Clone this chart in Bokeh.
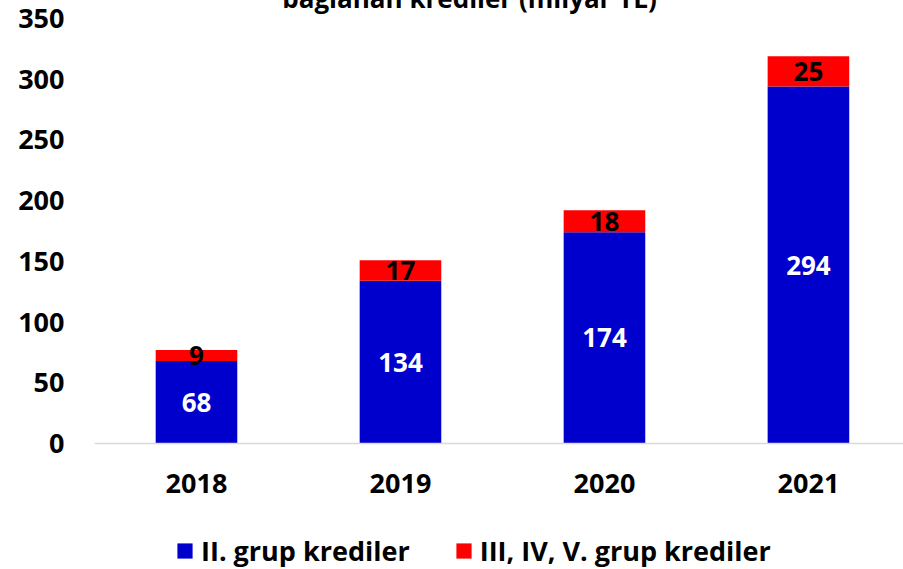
from bokeh.plotting import figure
from bokeh.models import ColumnDataSource, LabelSet, Label, Range1d, FixedTicker, Legend, LegendItem, Span
from bokeh.core.properties import value
from bokeh.embed import file_html
from bokeh.resources import INLINE

years = ["2018", "2019", "2020", "2021"]
grup2 = [68, 134, 174, 294]
grup345 = [9, 17, 18, 25]
series_names = ["II. grup krediler", "III, IV, V. grup krediler"]
colors = ["#0000CC", "#FF0000"]
title_text = "bağlanan krediler (milyar TL)"
y_ticks = [0, 50, 100, 150, 200, 250, 300, 350]

FONT = "Open Sans"
PX_PER_UNIT = 425 / 350.0          # vertical scale of the value axis
YEAR_LABEL_Y = -40 / PX_PER_UNIT   # year labels sit ~40px under the baseline

x = list(range(len(years)))
mid2 = [v / 2 for v in grup2]
mid3 = [a + b / 2 for a, b in zip(grup2, grup345)]
src = ColumnDataSource(dict(x=x, g2=grup2, g3=grup345, mid2=mid2, mid3=mid3,
                            t2=[str(v) for v in grup2], t3=[str(v) for v in grup345]))
ysrc = ColumnDataSource(dict(x=x, y=[YEAR_LABEL_Y] * len(x), t=years))

p = figure(width=911, height=577, output_backend="svg", toolbar_location=None,
           x_range=Range1d(-0.5, 3.466), y_range=Range1d(-126 / PX_PER_UNIT, 451 / PX_PER_UNIT),
           x_axis_location=None,
           min_border_left=102, min_border_right=0, min_border_top=0, min_border_bottom=0,
           margin=(-8, -8, -8, -8))
p.outline_line_color = None
p.xgrid.grid_line_color = None
p.ygrid.grid_line_color = None

r = p.vbar_stack(["g2", "g3"], x="x", width=0.4, source=src, color=colors, line_color=None)

p.yaxis.ticker = FixedTicker(ticks=y_ticks)
p.yaxis.axis_line_color = None
p.yaxis.major_tick_line_color = None
p.yaxis.minor_tick_line_color = None
p.yaxis.major_label_text_font = FONT
p.yaxis.major_label_text_font_style = "bold"
p.yaxis.major_label_text_font_size = "27px"
p.yaxis.major_label_text_color = "black"
p.yaxis.major_label_standoff = 24

baseline = Span(location=0, dimension="width", line_color="#d9d9d9", line_width=1.5)
p.add_layout(baseline)

year_labels = LabelSet(x="x", y="y", text="t", source=ysrc, text_align="center", text_baseline="middle",
                       text_color="black", text_font=value(FONT), text_font_style="bold",
                       text_font_size="27px")
p.add_layout(year_labels)

lab2 = LabelSet(x="x", y="mid2", text="t2", source=src, text_align="center", text_baseline="middle",
                text_color="white", text_font=value(FONT), text_font_style="bold", text_font_size="26px")
lab3 = LabelSet(x="x", y="mid3", text="t3", source=src, text_align="center", text_baseline="middle",
                text_color="black", text_font=value(FONT), text_font_style="bold", text_font_size="26px")
p.add_layout(lab2)
p.add_layout(lab3)

title = Label(x=375, y=572, x_units="screen", y_units="screen", text=title_text,
              text_align="center", text_baseline="alphabetic", text_font=FONT,
              text_font_style="bold", text_font_size="26px", text_color="black")
p.add_layout(title)

legend = Legend(items=[LegendItem(label=series_names[0], renderers=[r[0]]),
                       LegendItem(label=series_names[1], renderers=[r[1]])],
                orientation="horizontal", location=(81, 0),
                glyph_width=19, glyph_height=19, label_standoff=7, spacing=44,
                padding=0, margin=0, border_line_color=None, background_fill_alpha=0,
                label_text_font=FONT, label_text_font_style="bold", label_text_font_size="27px",
                label_text_color="black")
p.add_layout(legend, "center")

open("out.html", "w").write(file_html(p, INLINE))
